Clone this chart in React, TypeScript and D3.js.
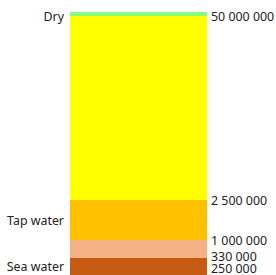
import React from 'react';
import * as d3 from 'd3';

// segments, bottom to top
const segNames = ['Sea water', '', 'Tap water', '', 'Dry'];
const segSizes = [17, 18, 40, 184, 4];
const segColors = ['#c55a11', '#f4b183', '#ffc000', '#ffff00', '#80ff80'];
// value at the lower edge of segments 0..3, then the top edge
const edgeLabels = ['250 000', '330 000', '1 000 000', '2 500 000', '50 000 000'];

const W = 276;
const H = 275;

const App: React.FC = () => {
  const total = d3.sum(segSizes);
  const y = d3.scaleLinear().domain([0, total]).range([H, 12]);
  const x = d3.scaleBand().domain(['bar']).range([70, 207]).padding(0);

  const starts = d3.cumsum([0, ...segSizes]).slice(0, segSizes.length);
  const edgeVals = [...starts.slice(0, segSizes.length - 1), total];
  const clampY = (v: number) => Math.max(16, Math.min(268.5, v));

  // keep edge labels apart, pushing upward from the bottom
  const edgeY: number[] = [];
  edgeVals.forEach((v, i) => {
    let p = clampY(y(v));
    if (i > 0 && edgeY[i - 1] - p < 12.5) p = edgeY[i - 1] - 12.5;
    edgeY.push(p);
  });

  return (
    <svg width={W} height={H} style={{ position: 'absolute', left: 0, top: 0, display: 'block' }}
      fontFamily="'Noto Sans', sans-serif" fontSize={12.4}>
      {segSizes.map((s, i) => (
        <rect key={i} x={x('bar')} width={x.bandwidth()}
          y={y(starts[i] + s)} height={y(starts[i]) - y(starts[i] + s)} fill={segColors[i]} />
      ))}
      {segNames.map((n, i) => n ? (
        <text key={'n' + i} x={64} y={clampY(y(starts[i] + segSizes[i] / 2))}
          textAnchor="end" dominantBaseline="central" fill="#222">{n}</text>
      ) : null)}
      {edgeLabels.map((t, i) => (
        <text key={'e' + i} x={211} y={edgeY[i]}
          dominantBaseline="central" fill="#222">{t}</text>
      ))}
    </svg>
  );
};

export default App;
